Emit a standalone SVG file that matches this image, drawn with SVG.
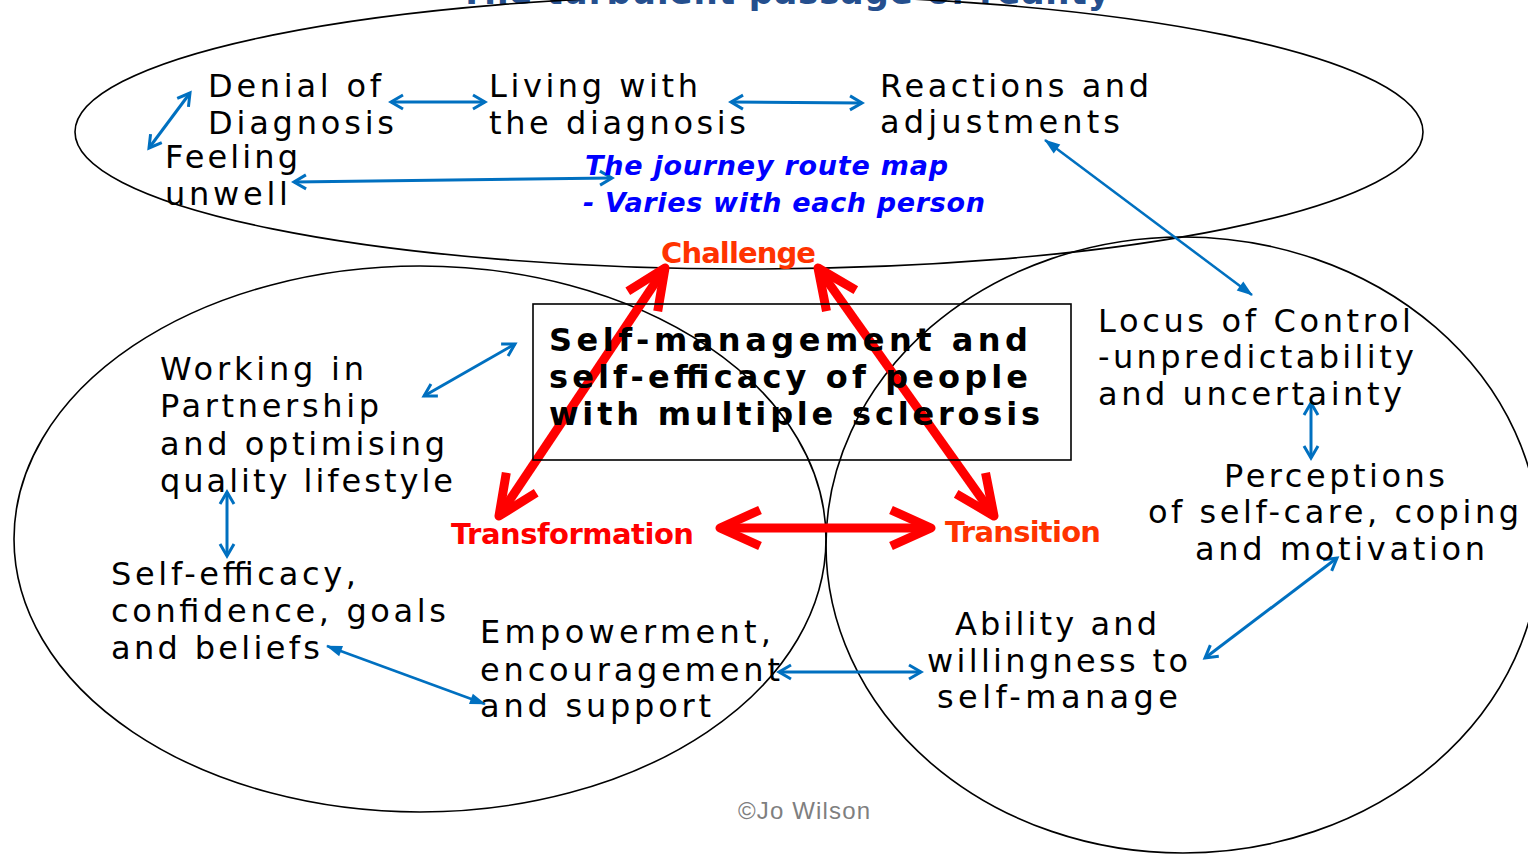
<svg xmlns="http://www.w3.org/2000/svg" width="1528" height="854" viewBox="0 0 1528 854">
<style>
.t{font-family:"DejaVu Sans",Verdana,sans-serif;font-size:32px;fill:#000}
.b{font-family:"DejaVu Sans",Verdana,sans-serif;font-size:32px;font-weight:bold;fill:#000}
.j{font-family:"DejaVu Sans",Verdana,sans-serif;font-size:27px;font-weight:bold;font-style:italic;fill:#0000FF}
.r{font-family:"DejaVu Sans",Verdana,sans-serif;font-size:29px;font-weight:bold}
.ell{fill:none;stroke:#000;stroke-width:1.6}
.bl{fill:none;stroke:#0070C0;stroke-width:3}
.bf{fill:none;stroke:#0070C0;stroke-width:2.5}
.rd{fill:none;stroke:#FF0000;stroke-width:9}
</style>
<defs>
<marker id="bo" markerUnits="userSpaceOnUse" orient="auto-start-reverse" overflow="visible" markerWidth="1" markerHeight="1" refX="0" refY="0">
<path d="M-12,-7 L0,0 L-12,7" fill="none" stroke="#0070C0" stroke-width="3"/>
</marker>
<marker id="bt" markerUnits="userSpaceOnUse" orient="auto-start-reverse" overflow="visible" markerWidth="1" markerHeight="1" refX="0" refY="0">
<path d="M-15,-5.5 L1,0 L-15,5.5 Z" fill="#0070C0"/>
</marker>
<marker id="ro" markerUnits="userSpaceOnUse" orient="auto-start-reverse" overflow="visible" markerWidth="1" markerHeight="1" refX="0" refY="0">
<path d="M-40,-18 L0,0 L-40,18" fill="none" stroke="#FF0000" stroke-width="9" stroke-linejoin="round"/>
</marker>
</defs>
<rect width="1528" height="854" fill="#fff"/>

<g id="title">
<text x="460" y="4" font-family="DejaVu Sans, Verdana, sans-serif" font-size="34" font-weight="bold" fill="#254F8E" textLength="650">The turbulent passage of reality</text>
</g>

<g id="ellipses">
<ellipse class="ell" cx="749" cy="132" rx="674" ry="137"/>
<ellipse class="ell" cx="420" cy="539" rx="406" ry="273"/>
<ellipse class="ell" cx="1183" cy="545" rx="357" ry="308"/>
</g>

<g id="connectors">
<line class="bl" x1="190" y1="93" x2="149" y2="148" marker-start="url(#bo)" marker-end="url(#bo)"/>
<line class="bl" x1="391" y1="102" x2="485" y2="102" marker-start="url(#bo)" marker-end="url(#bo)"/>
<line class="bl" x1="294" y1="182" x2="612" y2="178" marker-start="url(#bo)" marker-end="url(#bo)"/>
<line class="bl" x1="731" y1="102" x2="862" y2="103" marker-start="url(#bo)" marker-end="url(#bo)"/>
<line class="bf" x1="1045" y1="140" x2="1252" y2="295" marker-start="url(#bt)" marker-end="url(#bt)"/>
<line class="bl" x1="424" y1="396" x2="515" y2="344" marker-start="url(#bo)" marker-end="url(#bo)"/>
<line class="bl" x1="227" y1="492" x2="227" y2="556" marker-start="url(#bo)" marker-end="url(#bo)"/>
<line class="bf" x1="327" y1="646" x2="485" y2="704" marker-start="url(#bt)" marker-end="url(#bt)"/>
<line class="bl" x1="779" y1="672" x2="921" y2="672" marker-start="url(#bo)" marker-end="url(#bo)"/>
<line class="bl" x1="1205" y1="658" x2="1337" y2="558" marker-start="url(#bo)" marker-end="url(#bo)"/>
<line class="bl" x1="1311" y1="403" x2="1311" y2="458" marker-start="url(#bo)" marker-end="url(#bo)"/>
<line class="rd" x1="499" y1="516" x2="665" y2="268" marker-start="url(#ro)" marker-end="url(#ro)"/>
<line class="rd" x1="818" y1="268" x2="994" y2="516" marker-start="url(#ro)" marker-end="url(#ro)"/>
<line class="rd" x1="720" y1="528" x2="931" y2="528" marker-start="url(#ro)" marker-end="url(#ro)"/>
</g>

<g id="denial"><text class="t" x="208" y="97" textLength="173">Denial of</text><text class="t" x="208" y="134" textLength="186">Diagnosis</text></g>
<g id="feeling"><text class="t" x="165" y="168" textLength="133">Feeling</text><text class="t" x="165" y="205" textLength="123">unwell</text></g>
<g id="living"><text class="t" x="489" y="97" textLength="209">Living with</text><text class="t" x="489" y="134" textLength="257">the diagnosis</text></g>
<g id="reactions"><text class="t" x="880" y="97" textLength="269">Reactions and</text><text class="t" x="880" y="133" textLength="240">adjustments</text></g>
<g id="journey"><text class="j" x="585" y="175" textLength="363">The journey route map</text><text class="j" x="583" y="212" textLength="402">- Varies with each person</text></g>

<g id="core">
<rect x="533" y="304" width="538" height="156" fill="none" stroke="#000" stroke-width="1.6"/>
<text class="b" x="549" y="351" textLength="479">Self-management and</text>
<text class="b" x="549" y="388" textLength="479">self-efficacy of people</text>
<text class="b" x="549" y="425" textLength="491">with multiple sclerosis</text>
</g>

<g id="challenge"><text class="r" x="661" y="263" fill="#FF3300" textLength="155">Challenge</text></g>
<g id="transformation"><text class="r" x="451" y="544" fill="#FF0000" textLength="243">Transformation</text></g>
<g id="transition"><text class="r" x="945" y="542" fill="#FF3300" textLength="156">Transition</text></g>

<g id="working"><text class="t" x="160" y="380" textLength="204">Working in</text><text class="t" x="160" y="417" textLength="219">Partnership</text><text class="t" x="160" y="455" textLength="285">and optimising</text><text class="t" x="160" y="492" textLength="293">quality lifestyle</text></g>
<g id="selfefficacy"><text class="t" x="111" y="585" textLength="245">Self-efficacy,</text><text class="t" x="111" y="622" textLength="335">confidence, goals</text><text class="t" x="111" y="659" textLength="209">and beliefs</text></g>
<g id="empowerment"><text class="t" x="480" y="643" textLength="291">Empowerment,</text><text class="t" x="480" y="681" textLength="300">encouragement</text><text class="t" x="480" y="717" textLength="231">and support</text></g>
<g id="ability"><text class="t" x="955" y="635" textLength="202">Ability and</text><text class="t" x="927" y="672" textLength="261">willingness to</text><text class="t" x="937" y="708" textLength="241">self-manage</text></g>
<g id="locus"><text class="t" x="1098" y="332" textLength="313">Locus of Control</text><text class="t" x="1098" y="368" textLength="316">-unpredictability</text><text class="t" x="1098" y="405" textLength="304">and uncertainty</text></g>
<g id="perceptions"><text class="t" x="1224" y="487" textLength="221">Perceptions</text><text class="t" x="1148" y="523" textLength="371">of self-care, coping</text><text class="t" x="1195" y="560" textLength="290">and motivation</text></g>

<g id="credit"><text x="738" y="819" font-family="Liberation Sans, Arial, sans-serif" font-size="24" fill="#7F7F7F" textLength="132">©Jo Wilson</text></g>
</svg>
